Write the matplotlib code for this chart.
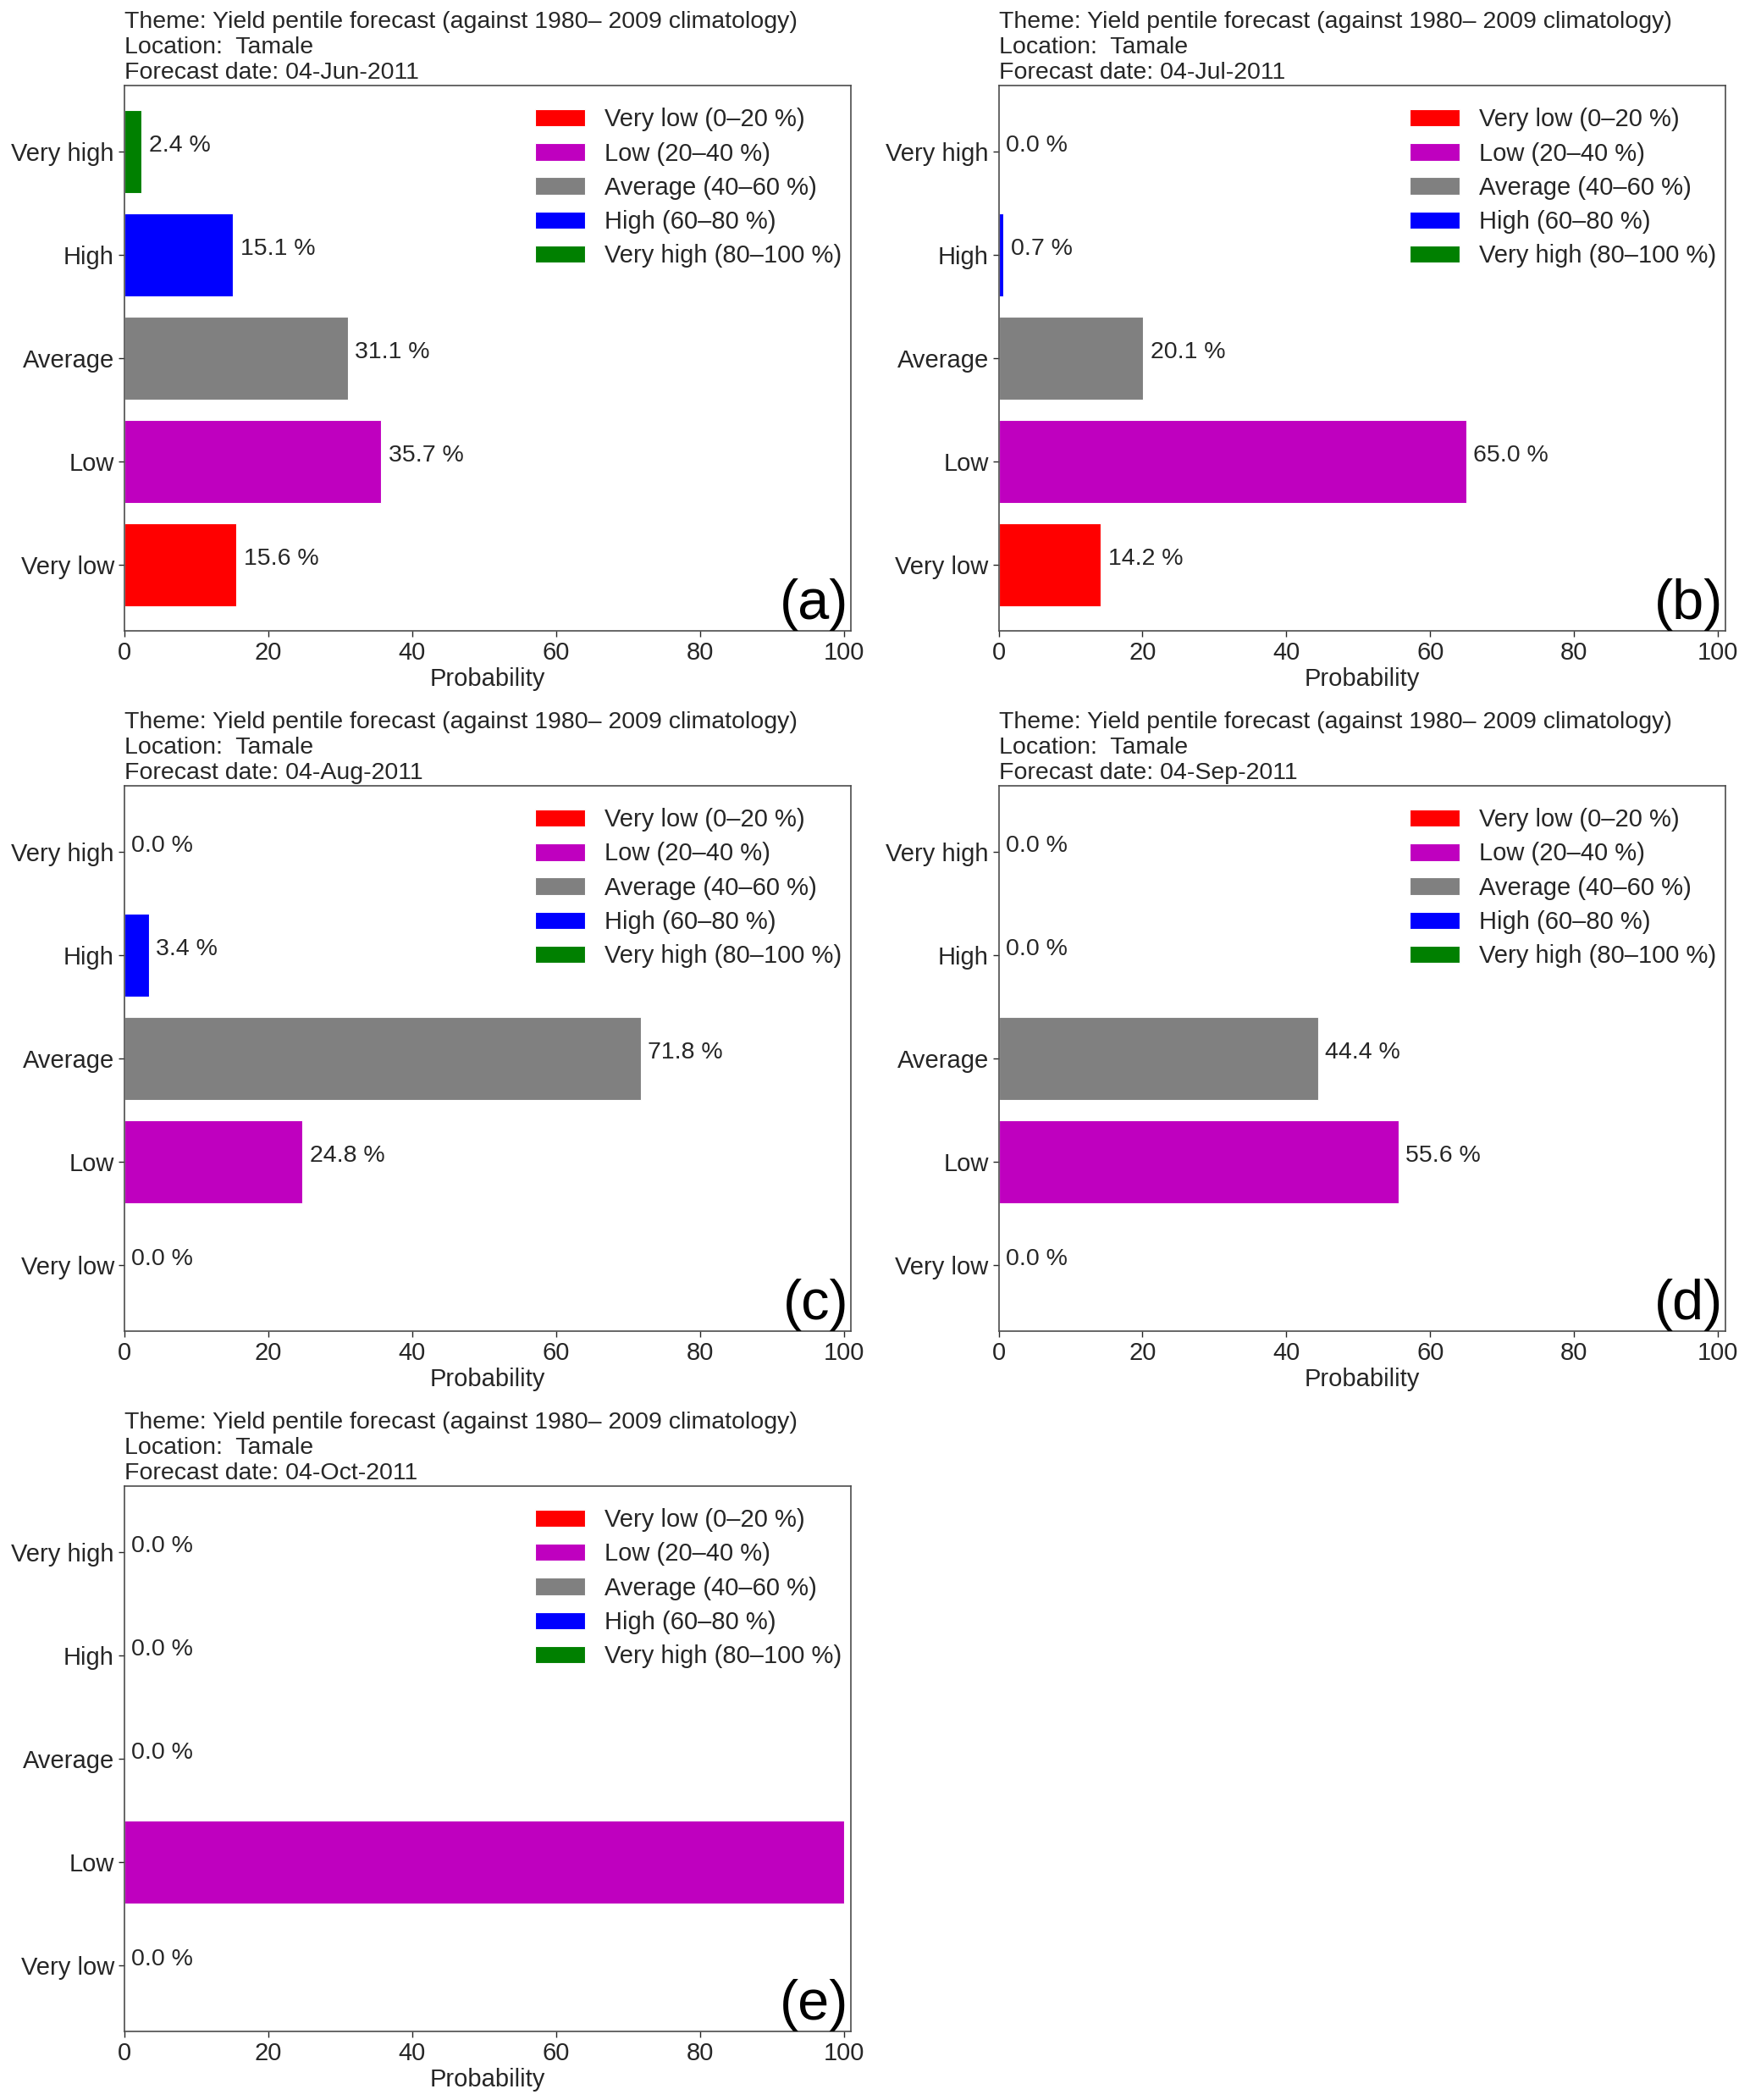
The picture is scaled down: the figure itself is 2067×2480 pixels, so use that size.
import matplotlib
matplotlib.use("Agg")
import matplotlib.pyplot as plt

plt.rcParams['font.family'] = ['Liberation Sans', 'DejaVu Sans']
plt.rcParams['text.color'] = '0.15'
plt.rcParams['axes.labelcolor'] = '0.15'
plt.rcParams['xtick.color'] = '0.15'
plt.rcParams['ytick.color'] = '0.15'

# pentile categories, bottom to top
categories = ['Very low', 'Low', 'Average', 'High', 'Very high']
legend_labels = ['Very low (0\u201320 %)', 'Low (20\u201340 %)', 'Average (40\u201360 %)',
                 'High (60\u201380 %)', 'Very high (80\u2013100 %)']
bar_colors = ['red', 'm', 'gray', 'b', 'g']

location = 'Tamale'
forecast_dates = ['04-Jun-2011', '04-Jul-2011', '04-Aug-2011', '04-Sep-2011', '04-Oct-2011']
panel_letters = ['(a)', '(b)', '(c)', '(d)', '(e)']

prob_jun = [15.6, 35.7, 31.1, 15.1, 2.4]
prob_jul = [14.2, 65.0, 20.1, 0.7, 0.0]
prob_aug = [0.0, 24.8, 71.8, 3.4, 0.0]
prob_sep = [0.0, 55.6, 44.4, 0.0, 0.0]
prob_oct = [0.0, 100.0, 0.0, 0.0, 0.0]
probabilities = [prob_jun, prob_jul, prob_aug, prob_sep, prob_oct]

W, H = 2067, 2480
fig = plt.figure(figsize=(W / 100, H / 100), dpi=100)

col_left = [146.7 / W, 1179.5 / W]
ax_w = 858.3 / W
row_bottom = [1 - 745 / H, 1 - 1572 / H, 1 - 2399 / H]
ax_h = 644 / H

for k, probs in enumerate(probabilities):
    row, col = divmod(k, 2)
    ax = fig.add_axes([col_left[col], row_bottom[row], ax_w, ax_h])

    for i, (cat, p) in enumerate(zip(categories, probs)):
        ax.barh(i, p, height=0.8, color=bar_colors[i], edgecolor='white',
                linewidth=0.8, label=legend_labels[i])
        ax.text(p + 1, i, '%.1f %%' % p, fontsize=20.5, clip_on=True)

    ax.set_yticks(range(len(categories)))
    ax.set_yticklabels(categories)
    ax.set_xticks([0, 20, 40, 60, 80, 100])
    ax.set_xlim(0, 101)
    ax.set_ylim(-0.64, 4.64)
    ax.tick_params(labelsize=21, width=1, length=5)
    ax.set_xlabel('Probability', fontsize=21, labelpad=2)
    for sp in ax.spines.values():
        sp.set_color('0.3')
        sp.set_linewidth(1.2)

    title = ('Theme: Yield pentile forecast (against 1980\u2013 2009 climatology)\n'
             'Location:  ' + location + '\n'
             'Forecast date: ' + forecast_dates[k])
    ax.set_title(title, loc='left', fontsize=20.5, pad=6)

    ax.legend(loc='upper right', bbox_to_anchor=(1.018, 1.0), fontsize=21,
              labelspacing=0.42, frameon=False)
    ax.text(0.997, 0.0, panel_letters[k], transform=ax.transAxes,
            ha='right', va='bottom', fontsize=48, color='black')

fig.savefig('out.png', dpi=100)
